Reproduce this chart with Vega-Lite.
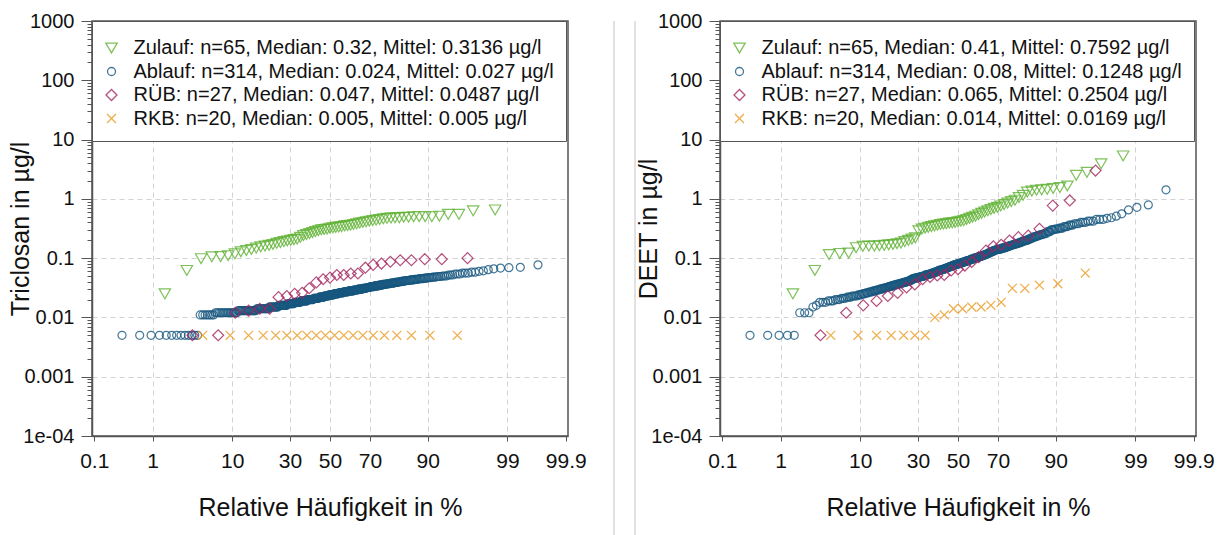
{
  "$schema": "https://vega.github.io/schema/vega-lite/v6.json",
  "padding": {"left": 8, "top": 0, "right": 0, "bottom": 0},
  "config": {
    "font": "Liberation Sans",
    "view": {"stroke": "#555555", "strokeWidth": 1.5},
    "axis": {
      "labelFont": "Liberation Sans",
      "titleFont": "Liberation Sans",
      "labelColor": "#111111",
      "titleColor": "#111111",
      "titleFontWeight": "normal",
      "domainColor": "#555555",
      "domainWidth": 1.5,
      "tickColor": "#555555",
      "gridColor": "#d2d2d2",
      "gridDash": [5, 4],
      "gridWidth": 1,
      "labelOverlap": false,
      "labelFlush": false
    },
    "legend": {
      "labelFont": "Liberation Sans",
      "labelFontSize": 20,
      "labelColor": "#111111",
      "labelLimit": 700,
      "padding": 12,
      "rowPadding": 3.5,
      "labelOffset": 12,
      "symbolOffset": -2.5,
      "titleFontSize": 4,
      "titlePadding": 1,
      "strokeColor": "#555555",
      "fillColor": "#ffffff",
      "symbolStrokeWidth": 1.3,
      "cornerRadius": 0
    }
  },
  "datasets": {
    "triclosan": [
      {"g":"Zulauf","p":1.52,"c":0.025},{"g":"Zulauf","p":3.03,"c":0.062},{"g":"Zulauf","p":4.55,"c":0.098},{"g":"Zulauf","p":6.06,"c":0.105},{"g":"Zulauf","p":7.58,"c":0.106},
      {"g":"Zulauf","p":9.09,"c":0.11},{"g":"Zulauf","p":10.61,"c":0.118},{"g":"Zulauf","p":12.12,"c":0.128},{"g":"Zulauf","p":13.64,"c":0.135},{"g":"Zulauf","p":15.15,"c":0.14},
      {"g":"Zulauf","p":16.67,"c":0.148},{"g":"Zulauf","p":18.18,"c":0.155},{"g":"Zulauf","p":19.7,"c":0.16},{"g":"Zulauf","p":21.21,"c":0.165},{"g":"Zulauf","p":22.73,"c":0.17},
      {"g":"Zulauf","p":24.24,"c":0.178},{"g":"Zulauf","p":25.76,"c":0.183},{"g":"Zulauf","p":27.27,"c":0.19},{"g":"Zulauf","p":28.79,"c":0.195},{"g":"Zulauf","p":30.3,"c":0.2},
      {"g":"Zulauf","p":31.82,"c":0.205},{"g":"Zulauf","p":33.33,"c":0.21},{"g":"Zulauf","p":34.85,"c":0.225},{"g":"Zulauf","p":36.36,"c":0.24},{"g":"Zulauf","p":37.88,"c":0.25},
      {"g":"Zulauf","p":39.39,"c":0.26},{"g":"Zulauf","p":40.91,"c":0.27},{"g":"Zulauf","p":42.42,"c":0.28},{"g":"Zulauf","p":43.94,"c":0.29},{"g":"Zulauf","p":45.45,"c":0.3},
      {"g":"Zulauf","p":46.97,"c":0.305},{"g":"Zulauf","p":48.48,"c":0.31},{"g":"Zulauf","p":50,"c":0.32},{"g":"Zulauf","p":51.52,"c":0.325},{"g":"Zulauf","p":53.03,"c":0.33},
      {"g":"Zulauf","p":54.55,"c":0.335},{"g":"Zulauf","p":56.06,"c":0.34},{"g":"Zulauf","p":57.58,"c":0.35},{"g":"Zulauf","p":59.09,"c":0.355},{"g":"Zulauf","p":60.61,"c":0.36},
      {"g":"Zulauf","p":62.12,"c":0.37},{"g":"Zulauf","p":63.64,"c":0.38},{"g":"Zulauf","p":65.15,"c":0.39},{"g":"Zulauf","p":66.67,"c":0.4},{"g":"Zulauf","p":68.18,"c":0.41},
      {"g":"Zulauf","p":69.7,"c":0.42},{"g":"Zulauf","p":71.21,"c":0.43},{"g":"Zulauf","p":72.73,"c":0.44},{"g":"Zulauf","p":74.24,"c":0.45},{"g":"Zulauf","p":75.76,"c":0.46},
      {"g":"Zulauf","p":77.27,"c":0.47},{"g":"Zulauf","p":78.79,"c":0.475},{"g":"Zulauf","p":80.3,"c":0.48},{"g":"Zulauf","p":81.82,"c":0.48},{"g":"Zulauf","p":83.33,"c":0.49},
      {"g":"Zulauf","p":84.85,"c":0.49},{"g":"Zulauf","p":86.36,"c":0.5},{"g":"Zulauf","p":87.88,"c":0.5},{"g":"Zulauf","p":89.39,"c":0.5},{"g":"Zulauf","p":90.91,"c":0.5},
      {"g":"Zulauf","p":92.42,"c":0.51},{"g":"Zulauf","p":93.94,"c":0.55},{"g":"Zulauf","p":95.45,"c":0.55},{"g":"Zulauf","p":96.97,"c":0.63},{"g":"Zulauf","p":98.48,"c":0.65},

      {"g":"Ablauf","p":0.32,"c":0.005},{"g":"Ablauf","p":0.63,"c":0.005},{"g":"Ablauf","p":0.95,"c":0.005},{"g":"Ablauf","p":1.27,"c":0.005},{"g":"Ablauf","p":1.59,"c":0.005},
      {"g":"Ablauf","p":1.9,"c":0.005},{"g":"Ablauf","p":2.22,"c":0.005},{"g":"Ablauf","p":2.54,"c":0.005},{"g":"Ablauf","p":2.86,"c":0.005},{"g":"Ablauf","p":3.17,"c":0.005},
      {"g":"Ablauf","p":3.49,"c":0.005},{"g":"Ablauf","p":3.81,"c":0.005},{"g":"Ablauf","p":4.13,"c":0.005},{"g":"Ablauf","p":4.44,"c":0.011},{"g":"Ablauf","p":4.76,"c":0.011},
      {"g":"Ablauf","p":5.08,"c":0.011},{"g":"Ablauf","p":5.4,"c":0.011},{"g":"Ablauf","p":5.71,"c":0.011},{"g":"Ablauf","p":6.03,"c":0.011},{"g":"Ablauf","p":6.35,"c":0.011},
      {"g":"Ablauf","p":6.67,"c":0.012},{"g":"Ablauf","p":6.98,"c":0.012},{"g":"Ablauf","p":7.3,"c":0.012},{"g":"Ablauf","p":7.62,"c":0.012},{"g":"Ablauf","p":7.94,"c":0.012},
      {"g":"Ablauf","p":8.25,"c":0.012},{"g":"Ablauf","p":8.57,"c":0.012},{"g":"Ablauf","p":8.89,"c":0.012},{"g":"Ablauf","p":9.21,"c":0.012},{"g":"Ablauf","p":9.52,"c":0.012},
      {"g":"Ablauf","p":9.84,"c":0.012},{"g":"Ablauf","p":10.16,"c":0.012},{"g":"Ablauf","p":10.48,"c":0.012},{"g":"Ablauf","p":10.79,"c":0.012},{"g":"Ablauf","p":11.11,"c":0.012},
      {"g":"Ablauf","p":11.43,"c":0.013},{"g":"Ablauf","p":11.75,"c":0.013},{"g":"Ablauf","p":12.06,"c":0.013},{"g":"Ablauf","p":12.38,"c":0.013},{"g":"Ablauf","p":12.7,"c":0.013},
      {"g":"Ablauf","p":13.02,"c":0.013},{"g":"Ablauf","p":13.33,"c":0.013},{"g":"Ablauf","p":13.65,"c":0.013},{"g":"Ablauf","p":13.97,"c":0.013},{"g":"Ablauf","p":14.29,"c":0.013},
      {"g":"Ablauf","p":14.6,"c":0.013},{"g":"Ablauf","p":14.92,"c":0.013},{"g":"Ablauf","p":15.24,"c":0.013},{"g":"Ablauf","p":15.56,"c":0.013},{"g":"Ablauf","p":15.87,"c":0.013},
      {"g":"Ablauf","p":16.19,"c":0.013},{"g":"Ablauf","p":16.51,"c":0.013},{"g":"Ablauf","p":16.83,"c":0.014},{"g":"Ablauf","p":17.14,"c":0.014},{"g":"Ablauf","p":17.46,"c":0.014},
      {"g":"Ablauf","p":17.78,"c":0.014},{"g":"Ablauf","p":18.1,"c":0.014},{"g":"Ablauf","p":18.41,"c":0.014},{"g":"Ablauf","p":18.73,"c":0.014},{"g":"Ablauf","p":19.05,"c":0.014},
      {"g":"Ablauf","p":19.37,"c":0.014},{"g":"Ablauf","p":19.68,"c":0.014},{"g":"Ablauf","p":20,"c":0.014},{"g":"Ablauf","p":20.32,"c":0.014},{"g":"Ablauf","p":20.63,"c":0.014},
      {"g":"Ablauf","p":20.95,"c":0.014},{"g":"Ablauf","p":21.27,"c":0.015},{"g":"Ablauf","p":21.59,"c":0.015},{"g":"Ablauf","p":21.9,"c":0.015},{"g":"Ablauf","p":22.22,"c":0.015},
      {"g":"Ablauf","p":22.54,"c":0.015},{"g":"Ablauf","p":22.86,"c":0.015},{"g":"Ablauf","p":23.17,"c":0.015},{"g":"Ablauf","p":23.49,"c":0.015},{"g":"Ablauf","p":23.81,"c":0.015},
      {"g":"Ablauf","p":24.13,"c":0.015},{"g":"Ablauf","p":24.44,"c":0.015},{"g":"Ablauf","p":24.76,"c":0.015},{"g":"Ablauf","p":25.08,"c":0.016},{"g":"Ablauf","p":25.4,"c":0.016},
      {"g":"Ablauf","p":25.71,"c":0.016},{"g":"Ablauf","p":26.03,"c":0.016},{"g":"Ablauf","p":26.35,"c":0.016},{"g":"Ablauf","p":26.67,"c":0.016},{"g":"Ablauf","p":26.98,"c":0.016},
      {"g":"Ablauf","p":27.3,"c":0.016},{"g":"Ablauf","p":27.62,"c":0.016},{"g":"Ablauf","p":27.94,"c":0.016},{"g":"Ablauf","p":28.25,"c":0.016},{"g":"Ablauf","p":28.57,"c":0.016},
      {"g":"Ablauf","p":28.89,"c":0.017},{"g":"Ablauf","p":29.21,"c":0.017},{"g":"Ablauf","p":29.52,"c":0.017},{"g":"Ablauf","p":29.84,"c":0.017},{"g":"Ablauf","p":30.16,"c":0.017},
      {"g":"Ablauf","p":30.48,"c":0.017},{"g":"Ablauf","p":30.79,"c":0.017},{"g":"Ablauf","p":31.11,"c":0.017},{"g":"Ablauf","p":31.43,"c":0.017},{"g":"Ablauf","p":31.75,"c":0.017},
      {"g":"Ablauf","p":32.06,"c":0.018},{"g":"Ablauf","p":32.38,"c":0.018},{"g":"Ablauf","p":32.7,"c":0.018},{"g":"Ablauf","p":33.02,"c":0.018},{"g":"Ablauf","p":33.33,"c":0.018},
      {"g":"Ablauf","p":33.65,"c":0.018},{"g":"Ablauf","p":33.97,"c":0.018},{"g":"Ablauf","p":34.29,"c":0.018},{"g":"Ablauf","p":34.6,"c":0.018},{"g":"Ablauf","p":34.92,"c":0.018},
      {"g":"Ablauf","p":35.24,"c":0.019},{"g":"Ablauf","p":35.56,"c":0.019},{"g":"Ablauf","p":35.87,"c":0.019},{"g":"Ablauf","p":36.19,"c":0.019},{"g":"Ablauf","p":36.51,"c":0.019},
      {"g":"Ablauf","p":36.83,"c":0.019},{"g":"Ablauf","p":37.14,"c":0.019},{"g":"Ablauf","p":37.46,"c":0.019},{"g":"Ablauf","p":37.78,"c":0.019},{"g":"Ablauf","p":38.1,"c":0.019},
      {"g":"Ablauf","p":38.41,"c":0.02},{"g":"Ablauf","p":38.73,"c":0.02},{"g":"Ablauf","p":39.05,"c":0.02},{"g":"Ablauf","p":39.37,"c":0.02},{"g":"Ablauf","p":39.68,"c":0.02},
      {"g":"Ablauf","p":40,"c":0.02},{"g":"Ablauf","p":40.32,"c":0.02},{"g":"Ablauf","p":40.63,"c":0.02},{"g":"Ablauf","p":40.95,"c":0.02},{"g":"Ablauf","p":41.27,"c":0.02},
      {"g":"Ablauf","p":41.59,"c":0.021},{"g":"Ablauf","p":41.9,"c":0.021},{"g":"Ablauf","p":42.22,"c":0.021},{"g":"Ablauf","p":42.54,"c":0.021},{"g":"Ablauf","p":42.86,"c":0.021},
      {"g":"Ablauf","p":43.17,"c":0.021},{"g":"Ablauf","p":43.49,"c":0.021},{"g":"Ablauf","p":43.81,"c":0.021},{"g":"Ablauf","p":44.13,"c":0.021},{"g":"Ablauf","p":44.44,"c":0.022},
      {"g":"Ablauf","p":44.76,"c":0.022},{"g":"Ablauf","p":45.08,"c":0.022},{"g":"Ablauf","p":45.4,"c":0.022},{"g":"Ablauf","p":45.71,"c":0.022},{"g":"Ablauf","p":46.03,"c":0.022},
      {"g":"Ablauf","p":46.35,"c":0.022},{"g":"Ablauf","p":46.67,"c":0.022},{"g":"Ablauf","p":46.98,"c":0.023},{"g":"Ablauf","p":47.3,"c":0.023},{"g":"Ablauf","p":47.62,"c":0.023},
      {"g":"Ablauf","p":47.94,"c":0.023},{"g":"Ablauf","p":48.25,"c":0.023},{"g":"Ablauf","p":48.57,"c":0.023},{"g":"Ablauf","p":48.89,"c":0.023},{"g":"Ablauf","p":49.21,"c":0.023},
      {"g":"Ablauf","p":49.52,"c":0.024},{"g":"Ablauf","p":49.84,"c":0.024},{"g":"Ablauf","p":50.16,"c":0.024},{"g":"Ablauf","p":50.48,"c":0.024},{"g":"Ablauf","p":50.79,"c":0.024},
      {"g":"Ablauf","p":51.11,"c":0.024},{"g":"Ablauf","p":51.43,"c":0.024},{"g":"Ablauf","p":51.75,"c":0.024},{"g":"Ablauf","p":52.06,"c":0.025},{"g":"Ablauf","p":52.38,"c":0.025},
      {"g":"Ablauf","p":52.7,"c":0.025},{"g":"Ablauf","p":53.02,"c":0.025},{"g":"Ablauf","p":53.33,"c":0.025},{"g":"Ablauf","p":53.65,"c":0.025},{"g":"Ablauf","p":53.97,"c":0.025},
      {"g":"Ablauf","p":54.29,"c":0.025},{"g":"Ablauf","p":54.6,"c":0.026},{"g":"Ablauf","p":54.92,"c":0.026},{"g":"Ablauf","p":55.24,"c":0.026},{"g":"Ablauf","p":55.56,"c":0.026},
      {"g":"Ablauf","p":55.87,"c":0.026},{"g":"Ablauf","p":56.19,"c":0.026},{"g":"Ablauf","p":56.51,"c":0.026},{"g":"Ablauf","p":56.83,"c":0.026},{"g":"Ablauf","p":57.14,"c":0.027},
      {"g":"Ablauf","p":57.46,"c":0.027},{"g":"Ablauf","p":57.78,"c":0.027},{"g":"Ablauf","p":58.1,"c":0.027},{"g":"Ablauf","p":58.41,"c":0.027},{"g":"Ablauf","p":58.73,"c":0.027},
      {"g":"Ablauf","p":59.05,"c":0.027},{"g":"Ablauf","p":59.37,"c":0.027},{"g":"Ablauf","p":59.68,"c":0.028},{"g":"Ablauf","p":60,"c":0.028},{"g":"Ablauf","p":60.32,"c":0.028},
      {"g":"Ablauf","p":60.63,"c":0.028},{"g":"Ablauf","p":60.95,"c":0.028},{"g":"Ablauf","p":61.27,"c":0.028},{"g":"Ablauf","p":61.59,"c":0.028},{"g":"Ablauf","p":61.9,"c":0.028},
      {"g":"Ablauf","p":62.22,"c":0.029},{"g":"Ablauf","p":62.54,"c":0.029},{"g":"Ablauf","p":62.86,"c":0.029},{"g":"Ablauf","p":63.17,"c":0.029},{"g":"Ablauf","p":63.49,"c":0.029},
      {"g":"Ablauf","p":63.81,"c":0.029},{"g":"Ablauf","p":64.13,"c":0.029},{"g":"Ablauf","p":64.44,"c":0.03},{"g":"Ablauf","p":64.76,"c":0.03},{"g":"Ablauf","p":65.08,"c":0.03},
      {"g":"Ablauf","p":65.4,"c":0.03},{"g":"Ablauf","p":65.71,"c":0.03},{"g":"Ablauf","p":66.03,"c":0.03},{"g":"Ablauf","p":66.35,"c":0.03},{"g":"Ablauf","p":66.67,"c":0.031},
      {"g":"Ablauf","p":66.98,"c":0.031},{"g":"Ablauf","p":67.3,"c":0.031},{"g":"Ablauf","p":67.62,"c":0.031},{"g":"Ablauf","p":67.94,"c":0.031},{"g":"Ablauf","p":68.25,"c":0.031},
      {"g":"Ablauf","p":68.57,"c":0.032},{"g":"Ablauf","p":68.89,"c":0.032},{"g":"Ablauf","p":69.21,"c":0.032},{"g":"Ablauf","p":69.52,"c":0.032},{"g":"Ablauf","p":69.84,"c":0.032},
      {"g":"Ablauf","p":70.16,"c":0.033},{"g":"Ablauf","p":70.48,"c":0.033},{"g":"Ablauf","p":70.79,"c":0.033},{"g":"Ablauf","p":71.11,"c":0.033},{"g":"Ablauf","p":71.43,"c":0.033},
      {"g":"Ablauf","p":71.75,"c":0.033},{"g":"Ablauf","p":72.06,"c":0.034},{"g":"Ablauf","p":72.38,"c":0.034},{"g":"Ablauf","p":72.7,"c":0.034},{"g":"Ablauf","p":73.02,"c":0.034},
      {"g":"Ablauf","p":73.33,"c":0.034},{"g":"Ablauf","p":73.65,"c":0.034},{"g":"Ablauf","p":73.97,"c":0.035},{"g":"Ablauf","p":74.29,"c":0.035},{"g":"Ablauf","p":74.6,"c":0.035},
      {"g":"Ablauf","p":74.92,"c":0.035},{"g":"Ablauf","p":75.24,"c":0.035},{"g":"Ablauf","p":75.56,"c":0.036},{"g":"Ablauf","p":75.87,"c":0.036},{"g":"Ablauf","p":76.19,"c":0.036},
      {"g":"Ablauf","p":76.51,"c":0.036},{"g":"Ablauf","p":76.83,"c":0.036},{"g":"Ablauf","p":77.14,"c":0.037},{"g":"Ablauf","p":77.46,"c":0.037},{"g":"Ablauf","p":77.78,"c":0.037},
      {"g":"Ablauf","p":78.1,"c":0.037},{"g":"Ablauf","p":78.41,"c":0.037},{"g":"Ablauf","p":78.73,"c":0.038},{"g":"Ablauf","p":79.05,"c":0.038},{"g":"Ablauf","p":79.37,"c":0.038},
      {"g":"Ablauf","p":79.68,"c":0.038},{"g":"Ablauf","p":80,"c":0.038},{"g":"Ablauf","p":80.32,"c":0.039},{"g":"Ablauf","p":80.63,"c":0.039},{"g":"Ablauf","p":80.95,"c":0.039},
      {"g":"Ablauf","p":81.27,"c":0.039},{"g":"Ablauf","p":81.59,"c":0.04},{"g":"Ablauf","p":81.9,"c":0.04},{"g":"Ablauf","p":82.22,"c":0.04},{"g":"Ablauf","p":82.54,"c":0.04},
      {"g":"Ablauf","p":82.86,"c":0.041},{"g":"Ablauf","p":83.17,"c":0.041},{"g":"Ablauf","p":83.49,"c":0.041},{"g":"Ablauf","p":83.81,"c":0.041},{"g":"Ablauf","p":84.13,"c":0.042},
      {"g":"Ablauf","p":84.44,"c":0.042},{"g":"Ablauf","p":84.76,"c":0.042},{"g":"Ablauf","p":85.08,"c":0.042},{"g":"Ablauf","p":85.4,"c":0.043},{"g":"Ablauf","p":85.71,"c":0.043},
      {"g":"Ablauf","p":86.03,"c":0.043},{"g":"Ablauf","p":86.35,"c":0.043},{"g":"Ablauf","p":86.67,"c":0.044},{"g":"Ablauf","p":86.98,"c":0.044},{"g":"Ablauf","p":87.3,"c":0.044},
      {"g":"Ablauf","p":87.62,"c":0.044},{"g":"Ablauf","p":87.94,"c":0.045},{"g":"Ablauf","p":88.25,"c":0.045},{"g":"Ablauf","p":88.57,"c":0.045},{"g":"Ablauf","p":88.89,"c":0.045},
      {"g":"Ablauf","p":89.21,"c":0.046},{"g":"Ablauf","p":89.52,"c":0.046},{"g":"Ablauf","p":89.84,"c":0.046},{"g":"Ablauf","p":90.16,"c":0.047},{"g":"Ablauf","p":90.48,"c":0.047},
      {"g":"Ablauf","p":90.79,"c":0.047},{"g":"Ablauf","p":91.11,"c":0.048},{"g":"Ablauf","p":91.43,"c":0.048},{"g":"Ablauf","p":91.75,"c":0.048},{"g":"Ablauf","p":92.06,"c":0.049},
      {"g":"Ablauf","p":92.38,"c":0.049},{"g":"Ablauf","p":92.7,"c":0.049},{"g":"Ablauf","p":93.02,"c":0.05},{"g":"Ablauf","p":93.33,"c":0.05},{"g":"Ablauf","p":93.65,"c":0.05},
      {"g":"Ablauf","p":93.97,"c":0.052},{"g":"Ablauf","p":94.29,"c":0.052},{"g":"Ablauf","p":94.6,"c":0.052},{"g":"Ablauf","p":94.92,"c":0.054},{"g":"Ablauf","p":95.24,"c":0.054},
      {"g":"Ablauf","p":95.56,"c":0.054},{"g":"Ablauf","p":95.87,"c":0.056},{"g":"Ablauf","p":96.19,"c":0.056},{"g":"Ablauf","p":96.51,"c":0.056},{"g":"Ablauf","p":96.83,"c":0.058},
      {"g":"Ablauf","p":97.14,"c":0.058},{"g":"Ablauf","p":97.46,"c":0.06},{"g":"Ablauf","p":97.78,"c":0.061},{"g":"Ablauf","p":98.1,"c":0.064},{"g":"Ablauf","p":98.41,"c":0.066},
      {"g":"Ablauf","p":98.73,"c":0.068},{"g":"Ablauf","p":99.05,"c":0.069},{"g":"Ablauf","p":99.37,"c":0.07},{"g":"Ablauf","p":99.68,"c":0.077},

      {"g":"RÜB","p":3.57,"c":0.005},{"g":"RÜB","p":7.14,"c":0.005},{"g":"RÜB","p":10.71,"c":0.012},{"g":"RÜB","p":14.29,"c":0.013},{"g":"RÜB","p":17.86,"c":0.014},
      {"g":"RÜB","p":21.43,"c":0.014},{"g":"RÜB","p":25,"c":0.022},{"g":"RÜB","p":28.57,"c":0.023},{"g":"RÜB","p":32.14,"c":0.025},{"g":"RÜB","p":35.71,"c":0.026},
      {"g":"RÜB","p":39.29,"c":0.031},{"g":"RÜB","p":42.86,"c":0.039},{"g":"RÜB","p":46.43,"c":0.044},{"g":"RÜB","p":50,"c":0.047},{"g":"RÜB","p":53.57,"c":0.052},
      {"g":"RÜB","p":57.14,"c":0.052},{"g":"RÜB","p":60.71,"c":0.055},{"g":"RÜB","p":64.29,"c":0.055},{"g":"RÜB","p":67.86,"c":0.069},{"g":"RÜB","p":71.43,"c":0.077},
      {"g":"RÜB","p":75,"c":0.081},{"g":"RÜB","p":78.57,"c":0.087},{"g":"RÜB","p":82.14,"c":0.092},{"g":"RÜB","p":85.71,"c":0.092},{"g":"RÜB","p":89.29,"c":0.096},
      {"g":"RÜB","p":92.86,"c":0.096},{"g":"RÜB","p":96.43,"c":0.1},

      {"g":"RKB","p":4.76,"c":0.005},{"g":"RKB","p":9.52,"c":0.005},{"g":"RKB","p":14.29,"c":0.005},{"g":"RKB","p":19.05,"c":0.005},{"g":"RKB","p":23.81,"c":0.005},
      {"g":"RKB","p":28.57,"c":0.005},{"g":"RKB","p":33.33,"c":0.005},{"g":"RKB","p":38.1,"c":0.005},{"g":"RKB","p":42.86,"c":0.005},{"g":"RKB","p":47.62,"c":0.005},
      {"g":"RKB","p":52.38,"c":0.005},{"g":"RKB","p":57.14,"c":0.005},{"g":"RKB","p":61.9,"c":0.005},{"g":"RKB","p":66.67,"c":0.005},{"g":"RKB","p":71.43,"c":0.005},
      {"g":"RKB","p":76.19,"c":0.005},{"g":"RKB","p":80.95,"c":0.005},{"g":"RKB","p":85.71,"c":0.005},{"g":"RKB","p":90.48,"c":0.005},{"g":"RKB","p":95.24,"c":0.005}
    ],
    "deet": [
      {"g":"Zulauf","p":1.52,"c":0.025},{"g":"Zulauf","p":3.03,"c":0.062},{"g":"Zulauf","p":4.55,"c":0.115},{"g":"Zulauf","p":6.06,"c":0.12},{"g":"Zulauf","p":7.58,"c":0.122},
      {"g":"Zulauf","p":9.09,"c":0.15},{"g":"Zulauf","p":10.61,"c":0.158},{"g":"Zulauf","p":12.12,"c":0.16},{"g":"Zulauf","p":13.64,"c":0.16},{"g":"Zulauf","p":15.15,"c":0.162},
      {"g":"Zulauf","p":16.67,"c":0.165},{"g":"Zulauf","p":18.18,"c":0.168},{"g":"Zulauf","p":19.7,"c":0.17},{"g":"Zulauf","p":21.21,"c":0.175},{"g":"Zulauf","p":22.73,"c":0.18},
      {"g":"Zulauf","p":24.24,"c":0.19},{"g":"Zulauf","p":25.76,"c":0.2},{"g":"Zulauf","p":27.27,"c":0.21},{"g":"Zulauf","p":28.79,"c":0.22},{"g":"Zulauf","p":30.3,"c":0.29},
      {"g":"Zulauf","p":31.82,"c":0.31},{"g":"Zulauf","p":33.33,"c":0.32},{"g":"Zulauf","p":34.85,"c":0.33},{"g":"Zulauf","p":36.36,"c":0.34},{"g":"Zulauf","p":37.88,"c":0.35},
      {"g":"Zulauf","p":39.39,"c":0.36},{"g":"Zulauf","p":40.91,"c":0.37},{"g":"Zulauf","p":42.42,"c":0.375},{"g":"Zulauf","p":43.94,"c":0.38},{"g":"Zulauf","p":45.45,"c":0.39},
      {"g":"Zulauf","p":46.97,"c":0.395},{"g":"Zulauf","p":48.48,"c":0.4},{"g":"Zulauf","p":50,"c":0.41},{"g":"Zulauf","p":51.52,"c":0.42},{"g":"Zulauf","p":53.03,"c":0.43},
      {"g":"Zulauf","p":54.55,"c":0.45},{"g":"Zulauf","p":56.06,"c":0.47},{"g":"Zulauf","p":57.58,"c":0.49},{"g":"Zulauf","p":59.09,"c":0.51},{"g":"Zulauf","p":60.61,"c":0.54},
      {"g":"Zulauf","p":62.12,"c":0.57},{"g":"Zulauf","p":63.64,"c":0.6},{"g":"Zulauf","p":65.15,"c":0.63},{"g":"Zulauf","p":66.67,"c":0.66},{"g":"Zulauf","p":68.18,"c":0.69},
      {"g":"Zulauf","p":69.7,"c":0.72},{"g":"Zulauf","p":71.21,"c":0.76},{"g":"Zulauf","p":72.73,"c":0.8},{"g":"Zulauf","p":74.24,"c":0.85},{"g":"Zulauf","p":75.76,"c":0.9},
      {"g":"Zulauf","p":77.27,"c":0.95},{"g":"Zulauf","p":78.79,"c":1.05},{"g":"Zulauf","p":80.3,"c":1.15},{"g":"Zulauf","p":81.82,"c":1.3},{"g":"Zulauf","p":83.33,"c":1.35},
      {"g":"Zulauf","p":84.85,"c":1.4},{"g":"Zulauf","p":86.36,"c":1.42},{"g":"Zulauf","p":87.88,"c":1.45},{"g":"Zulauf","p":89.39,"c":1.5},{"g":"Zulauf","p":90.91,"c":1.55},
      {"g":"Zulauf","p":92.42,"c":1.65},{"g":"Zulauf","p":93.94,"c":2.5},{"g":"Zulauf","p":95.45,"c":2.8},{"g":"Zulauf","p":96.97,"c":3.9},{"g":"Zulauf","p":98.48,"c":5.3},

      {"g":"Ablauf","p":0.32,"c":0.005},{"g":"Ablauf","p":0.63,"c":0.005},{"g":"Ablauf","p":0.95,"c":0.005},{"g":"Ablauf","p":1.27,"c":0.005},{"g":"Ablauf","p":1.59,"c":0.005},
      {"g":"Ablauf","p":1.9,"c":0.012},{"g":"Ablauf","p":2.22,"c":0.012},{"g":"Ablauf","p":2.54,"c":0.012},{"g":"Ablauf","p":2.86,"c":0.015},{"g":"Ablauf","p":3.17,"c":0.016},
      {"g":"Ablauf","p":3.49,"c":0.018},{"g":"Ablauf","p":3.81,"c":0.018},{"g":"Ablauf","p":4.13,"c":0.018},{"g":"Ablauf","p":4.44,"c":0.019},{"g":"Ablauf","p":4.76,"c":0.019},
      {"g":"Ablauf","p":5.08,"c":0.019},{"g":"Ablauf","p":5.4,"c":0.02},{"g":"Ablauf","p":5.71,"c":0.02},{"g":"Ablauf","p":6.03,"c":0.02},{"g":"Ablauf","p":6.35,"c":0.021},
      {"g":"Ablauf","p":6.67,"c":0.021},{"g":"Ablauf","p":6.98,"c":0.021},{"g":"Ablauf","p":7.3,"c":0.022},{"g":"Ablauf","p":7.62,"c":0.022},{"g":"Ablauf","p":7.94,"c":0.022},
      {"g":"Ablauf","p":8.25,"c":0.023},{"g":"Ablauf","p":8.57,"c":0.023},{"g":"Ablauf","p":8.89,"c":0.023},{"g":"Ablauf","p":9.21,"c":0.023},{"g":"Ablauf","p":9.52,"c":0.024},
      {"g":"Ablauf","p":9.84,"c":0.024},{"g":"Ablauf","p":10.16,"c":0.024},{"g":"Ablauf","p":10.48,"c":0.025},{"g":"Ablauf","p":10.79,"c":0.025},{"g":"Ablauf","p":11.11,"c":0.025},
      {"g":"Ablauf","p":11.43,"c":0.026},{"g":"Ablauf","p":11.75,"c":0.026},{"g":"Ablauf","p":12.06,"c":0.026},{"g":"Ablauf","p":12.38,"c":0.027},{"g":"Ablauf","p":12.7,"c":0.027},
      {"g":"Ablauf","p":13.02,"c":0.027},{"g":"Ablauf","p":13.33,"c":0.028},{"g":"Ablauf","p":13.65,"c":0.028},{"g":"Ablauf","p":13.97,"c":0.028},{"g":"Ablauf","p":14.29,"c":0.029},
      {"g":"Ablauf","p":14.6,"c":0.029},{"g":"Ablauf","p":14.92,"c":0.029},{"g":"Ablauf","p":15.24,"c":0.03},{"g":"Ablauf","p":15.56,"c":0.03},{"g":"Ablauf","p":15.87,"c":0.03},
      {"g":"Ablauf","p":16.19,"c":0.031},{"g":"Ablauf","p":16.51,"c":0.031},{"g":"Ablauf","p":16.83,"c":0.031},{"g":"Ablauf","p":17.14,"c":0.032},{"g":"Ablauf","p":17.46,"c":0.032},
      {"g":"Ablauf","p":17.78,"c":0.032},{"g":"Ablauf","p":18.1,"c":0.033},{"g":"Ablauf","p":18.41,"c":0.033},{"g":"Ablauf","p":18.73,"c":0.033},{"g":"Ablauf","p":19.05,"c":0.034},
      {"g":"Ablauf","p":19.37,"c":0.034},{"g":"Ablauf","p":19.68,"c":0.034},{"g":"Ablauf","p":20,"c":0.035},{"g":"Ablauf","p":20.32,"c":0.035},{"g":"Ablauf","p":20.63,"c":0.035},
      {"g":"Ablauf","p":20.95,"c":0.036},{"g":"Ablauf","p":21.27,"c":0.036},{"g":"Ablauf","p":21.59,"c":0.036},{"g":"Ablauf","p":21.9,"c":0.037},{"g":"Ablauf","p":22.22,"c":0.037},
      {"g":"Ablauf","p":22.54,"c":0.037},{"g":"Ablauf","p":22.86,"c":0.038},{"g":"Ablauf","p":23.17,"c":0.038},{"g":"Ablauf","p":23.49,"c":0.038},{"g":"Ablauf","p":23.81,"c":0.039},
      {"g":"Ablauf","p":24.13,"c":0.039},{"g":"Ablauf","p":24.44,"c":0.039},{"g":"Ablauf","p":24.76,"c":0.04},{"g":"Ablauf","p":25.08,"c":0.04},{"g":"Ablauf","p":25.4,"c":0.04},
      {"g":"Ablauf","p":25.71,"c":0.041},{"g":"Ablauf","p":26.03,"c":0.041},{"g":"Ablauf","p":26.35,"c":0.041},{"g":"Ablauf","p":26.67,"c":0.043},{"g":"Ablauf","p":26.98,"c":0.043},
      {"g":"Ablauf","p":27.3,"c":0.043},{"g":"Ablauf","p":27.62,"c":0.045},{"g":"Ablauf","p":27.94,"c":0.045},{"g":"Ablauf","p":28.25,"c":0.045},{"g":"Ablauf","p":28.57,"c":0.046},
      {"g":"Ablauf","p":28.89,"c":0.046},{"g":"Ablauf","p":29.21,"c":0.046},{"g":"Ablauf","p":29.52,"c":0.047},{"g":"Ablauf","p":29.84,"c":0.047},{"g":"Ablauf","p":30.16,"c":0.047},
      {"g":"Ablauf","p":30.48,"c":0.048},{"g":"Ablauf","p":30.79,"c":0.048},{"g":"Ablauf","p":31.11,"c":0.048},{"g":"Ablauf","p":31.43,"c":0.049},{"g":"Ablauf","p":31.75,"c":0.049},
      {"g":"Ablauf","p":32.06,"c":0.049},{"g":"Ablauf","p":32.38,"c":0.05},{"g":"Ablauf","p":32.7,"c":0.05},{"g":"Ablauf","p":33.02,"c":0.05},{"g":"Ablauf","p":33.33,"c":0.052},
      {"g":"Ablauf","p":33.65,"c":0.052},{"g":"Ablauf","p":33.97,"c":0.052},{"g":"Ablauf","p":34.29,"c":0.053},{"g":"Ablauf","p":34.6,"c":0.053},{"g":"Ablauf","p":34.92,"c":0.053},
      {"g":"Ablauf","p":35.24,"c":0.054},{"g":"Ablauf","p":35.56,"c":0.054},{"g":"Ablauf","p":35.87,"c":0.054},{"g":"Ablauf","p":36.19,"c":0.055},{"g":"Ablauf","p":36.51,"c":0.055},
      {"g":"Ablauf","p":36.83,"c":0.055},{"g":"Ablauf","p":37.14,"c":0.057},{"g":"Ablauf","p":37.46,"c":0.057},{"g":"Ablauf","p":37.78,"c":0.057},{"g":"Ablauf","p":38.1,"c":0.058},
      {"g":"Ablauf","p":38.41,"c":0.058},{"g":"Ablauf","p":38.73,"c":0.058},{"g":"Ablauf","p":39.05,"c":0.06},{"g":"Ablauf","p":39.37,"c":0.06},{"g":"Ablauf","p":39.68,"c":0.06},
      {"g":"Ablauf","p":40,"c":0.062},{"g":"Ablauf","p":40.32,"c":0.062},{"g":"Ablauf","p":40.63,"c":0.062},{"g":"Ablauf","p":40.95,"c":0.063},{"g":"Ablauf","p":41.27,"c":0.063},
      {"g":"Ablauf","p":41.59,"c":0.063},{"g":"Ablauf","p":41.9,"c":0.065},{"g":"Ablauf","p":42.22,"c":0.065},{"g":"Ablauf","p":42.54,"c":0.065},{"g":"Ablauf","p":42.86,"c":0.066},
      {"g":"Ablauf","p":43.17,"c":0.066},{"g":"Ablauf","p":43.49,"c":0.066},{"g":"Ablauf","p":43.81,"c":0.068},{"g":"Ablauf","p":44.13,"c":0.068},{"g":"Ablauf","p":44.44,"c":0.068},
      {"g":"Ablauf","p":44.76,"c":0.07},{"g":"Ablauf","p":45.08,"c":0.07},{"g":"Ablauf","p":45.4,"c":0.07},{"g":"Ablauf","p":45.71,"c":0.072},{"g":"Ablauf","p":46.03,"c":0.072},
      {"g":"Ablauf","p":46.35,"c":0.072},{"g":"Ablauf","p":46.67,"c":0.074},{"g":"Ablauf","p":46.98,"c":0.074},{"g":"Ablauf","p":47.3,"c":0.074},{"g":"Ablauf","p":47.62,"c":0.076},
      {"g":"Ablauf","p":47.94,"c":0.076},{"g":"Ablauf","p":48.25,"c":0.076},{"g":"Ablauf","p":48.57,"c":0.078},{"g":"Ablauf","p":48.89,"c":0.078},{"g":"Ablauf","p":49.21,"c":0.078},
      {"g":"Ablauf","p":49.52,"c":0.08},{"g":"Ablauf","p":49.84,"c":0.08},{"g":"Ablauf","p":50.16,"c":0.08},{"g":"Ablauf","p":50.48,"c":0.08},{"g":"Ablauf","p":50.79,"c":0.082},
      {"g":"Ablauf","p":51.11,"c":0.082},{"g":"Ablauf","p":51.43,"c":0.082},{"g":"Ablauf","p":51.75,"c":0.084},{"g":"Ablauf","p":52.06,"c":0.084},{"g":"Ablauf","p":52.38,"c":0.084},
      {"g":"Ablauf","p":52.7,"c":0.086},{"g":"Ablauf","p":53.02,"c":0.086},{"g":"Ablauf","p":53.33,"c":0.086},{"g":"Ablauf","p":53.65,"c":0.088},{"g":"Ablauf","p":53.97,"c":0.088},
      {"g":"Ablauf","p":54.29,"c":0.088},{"g":"Ablauf","p":54.6,"c":0.09},{"g":"Ablauf","p":54.92,"c":0.09},{"g":"Ablauf","p":55.24,"c":0.09},{"g":"Ablauf","p":55.56,"c":0.092},
      {"g":"Ablauf","p":55.87,"c":0.092},{"g":"Ablauf","p":56.19,"c":0.092},{"g":"Ablauf","p":56.51,"c":0.095},{"g":"Ablauf","p":56.83,"c":0.095},{"g":"Ablauf","p":57.14,"c":0.095},
      {"g":"Ablauf","p":57.46,"c":0.097},{"g":"Ablauf","p":57.78,"c":0.097},{"g":"Ablauf","p":58.1,"c":0.097},{"g":"Ablauf","p":58.41,"c":0.1},{"g":"Ablauf","p":58.73,"c":0.1},
      {"g":"Ablauf","p":59.05,"c":0.1},{"g":"Ablauf","p":59.37,"c":0.102},{"g":"Ablauf","p":59.68,"c":0.102},{"g":"Ablauf","p":60,"c":0.102},{"g":"Ablauf","p":60.32,"c":0.105},
      {"g":"Ablauf","p":60.63,"c":0.105},{"g":"Ablauf","p":60.95,"c":0.105},{"g":"Ablauf","p":61.27,"c":0.107},{"g":"Ablauf","p":61.59,"c":0.107},{"g":"Ablauf","p":61.9,"c":0.107},
      {"g":"Ablauf","p":62.22,"c":0.11},{"g":"Ablauf","p":62.54,"c":0.11},{"g":"Ablauf","p":62.86,"c":0.11},{"g":"Ablauf","p":63.17,"c":0.113},{"g":"Ablauf","p":63.49,"c":0.113},
      {"g":"Ablauf","p":63.81,"c":0.113},{"g":"Ablauf","p":64.13,"c":0.116},{"g":"Ablauf","p":64.44,"c":0.116},{"g":"Ablauf","p":64.76,"c":0.116},{"g":"Ablauf","p":65.08,"c":0.12},
      {"g":"Ablauf","p":65.4,"c":0.12},{"g":"Ablauf","p":65.71,"c":0.12},{"g":"Ablauf","p":66.03,"c":0.125},{"g":"Ablauf","p":66.35,"c":0.125},{"g":"Ablauf","p":66.67,"c":0.125},
      {"g":"Ablauf","p":66.98,"c":0.13},{"g":"Ablauf","p":67.3,"c":0.13},{"g":"Ablauf","p":67.62,"c":0.13},{"g":"Ablauf","p":67.94,"c":0.134},{"g":"Ablauf","p":68.25,"c":0.134},
      {"g":"Ablauf","p":68.57,"c":0.134},{"g":"Ablauf","p":68.89,"c":0.138},{"g":"Ablauf","p":69.21,"c":0.138},{"g":"Ablauf","p":69.52,"c":0.138},{"g":"Ablauf","p":69.84,"c":0.14},
      {"g":"Ablauf","p":70.16,"c":0.14},{"g":"Ablauf","p":70.48,"c":0.14},{"g":"Ablauf","p":70.79,"c":0.143},{"g":"Ablauf","p":71.11,"c":0.143},{"g":"Ablauf","p":71.43,"c":0.143},
      {"g":"Ablauf","p":71.75,"c":0.147},{"g":"Ablauf","p":72.06,"c":0.147},{"g":"Ablauf","p":72.38,"c":0.147},{"g":"Ablauf","p":72.7,"c":0.15},{"g":"Ablauf","p":73.02,"c":0.15},
      {"g":"Ablauf","p":73.33,"c":0.15},{"g":"Ablauf","p":73.65,"c":0.155},{"g":"Ablauf","p":73.97,"c":0.155},{"g":"Ablauf","p":74.29,"c":0.155},{"g":"Ablauf","p":74.6,"c":0.16},
      {"g":"Ablauf","p":74.92,"c":0.16},{"g":"Ablauf","p":75.24,"c":0.16},{"g":"Ablauf","p":75.56,"c":0.165},{"g":"Ablauf","p":75.87,"c":0.165},{"g":"Ablauf","p":76.19,"c":0.165},
      {"g":"Ablauf","p":76.51,"c":0.17},{"g":"Ablauf","p":76.83,"c":0.17},{"g":"Ablauf","p":77.14,"c":0.17},{"g":"Ablauf","p":77.46,"c":0.175},{"g":"Ablauf","p":77.78,"c":0.175},
      {"g":"Ablauf","p":78.1,"c":0.175},{"g":"Ablauf","p":78.41,"c":0.18},{"g":"Ablauf","p":78.73,"c":0.18},{"g":"Ablauf","p":79.05,"c":0.18},{"g":"Ablauf","p":79.37,"c":0.187},
      {"g":"Ablauf","p":79.68,"c":0.187},{"g":"Ablauf","p":80,"c":0.187},{"g":"Ablauf","p":80.32,"c":0.195},{"g":"Ablauf","p":80.63,"c":0.195},{"g":"Ablauf","p":80.95,"c":0.195},
      {"g":"Ablauf","p":81.27,"c":0.2},{"g":"Ablauf","p":81.59,"c":0.2},{"g":"Ablauf","p":81.9,"c":0.2},{"g":"Ablauf","p":82.22,"c":0.21},{"g":"Ablauf","p":82.54,"c":0.21},
      {"g":"Ablauf","p":82.86,"c":0.21},{"g":"Ablauf","p":83.17,"c":0.22},{"g":"Ablauf","p":83.49,"c":0.22},{"g":"Ablauf","p":83.81,"c":0.22},{"g":"Ablauf","p":84.13,"c":0.23},
      {"g":"Ablauf","p":84.44,"c":0.23},{"g":"Ablauf","p":84.76,"c":0.23},{"g":"Ablauf","p":85.08,"c":0.24},{"g":"Ablauf","p":85.4,"c":0.24},{"g":"Ablauf","p":85.71,"c":0.24},
      {"g":"Ablauf","p":86.03,"c":0.25},{"g":"Ablauf","p":86.35,"c":0.25},{"g":"Ablauf","p":86.67,"c":0.25},{"g":"Ablauf","p":86.98,"c":0.26},{"g":"Ablauf","p":87.3,"c":0.26},
      {"g":"Ablauf","p":87.62,"c":0.26},{"g":"Ablauf","p":87.94,"c":0.28},{"g":"Ablauf","p":88.25,"c":0.28},{"g":"Ablauf","p":88.57,"c":0.28},{"g":"Ablauf","p":88.89,"c":0.3},
      {"g":"Ablauf","p":89.21,"c":0.3},{"g":"Ablauf","p":89.52,"c":0.3},{"g":"Ablauf","p":89.84,"c":0.31},{"g":"Ablauf","p":90.16,"c":0.31},{"g":"Ablauf","p":90.48,"c":0.31},
      {"g":"Ablauf","p":90.79,"c":0.32},{"g":"Ablauf","p":91.11,"c":0.32},{"g":"Ablauf","p":91.43,"c":0.32},{"g":"Ablauf","p":91.75,"c":0.34},{"g":"Ablauf","p":92.06,"c":0.34},
      {"g":"Ablauf","p":92.38,"c":0.34},{"g":"Ablauf","p":92.7,"c":0.36},{"g":"Ablauf","p":93.02,"c":0.36},{"g":"Ablauf","p":93.33,"c":0.36},{"g":"Ablauf","p":93.65,"c":0.38},
      {"g":"Ablauf","p":93.97,"c":0.38},{"g":"Ablauf","p":94.29,"c":0.38},{"g":"Ablauf","p":94.6,"c":0.4},{"g":"Ablauf","p":94.92,"c":0.4},{"g":"Ablauf","p":95.24,"c":0.4},
      {"g":"Ablauf","p":95.56,"c":0.42},{"g":"Ablauf","p":95.87,"c":0.42},{"g":"Ablauf","p":96.19,"c":0.42},{"g":"Ablauf","p":96.51,"c":0.45},{"g":"Ablauf","p":96.83,"c":0.45},
      {"g":"Ablauf","p":97.14,"c":0.45},{"g":"Ablauf","p":97.46,"c":0.47},{"g":"Ablauf","p":97.78,"c":0.48},{"g":"Ablauf","p":98.1,"c":0.51},{"g":"Ablauf","p":98.41,"c":0.56},
      {"g":"Ablauf","p":98.73,"c":0.65},{"g":"Ablauf","p":99.05,"c":0.72},{"g":"Ablauf","p":99.37,"c":0.79},{"g":"Ablauf","p":99.68,"c":1.42},

      {"g":"RÜB","p":3.57,"c":0.005},{"g":"RÜB","p":7.14,"c":0.012},{"g":"RÜB","p":10.71,"c":0.016},{"g":"RÜB","p":14.29,"c":0.019},{"g":"RÜB","p":17.86,"c":0.023},
      {"g":"RÜB","p":21.43,"c":0.026},{"g":"RÜB","p":25,"c":0.032},{"g":"RÜB","p":28.57,"c":0.036},{"g":"RÜB","p":32.14,"c":0.044},{"g":"RÜB","p":35.71,"c":0.048},
      {"g":"RÜB","p":39.29,"c":0.051},{"g":"RÜB","p":42.86,"c":0.052},{"g":"RÜB","p":46.43,"c":0.062},{"g":"RÜB","p":50,"c":0.065},{"g":"RÜB","p":53.57,"c":0.075},
      {"g":"RÜB","p":57.14,"c":0.086},{"g":"RÜB","p":60.71,"c":0.104},{"g":"RÜB","p":64.29,"c":0.134},{"g":"RÜB","p":67.86,"c":0.159},{"g":"RÜB","p":71.43,"c":0.168},
      {"g":"RÜB","p":75,"c":0.198},{"g":"RÜB","p":78.57,"c":0.226},{"g":"RÜB","p":82.14,"c":0.24},{"g":"RÜB","p":85.71,"c":0.312},{"g":"RÜB","p":89.29,"c":0.77},
      {"g":"RÜB","p":92.86,"c":0.94},{"g":"RÜB","p":96.43,"c":3.0},

      {"g":"RKB","p":4.76,"c":0.005},{"g":"RKB","p":9.52,"c":0.005},{"g":"RKB","p":14.29,"c":0.005},{"g":"RKB","p":19.05,"c":0.005},{"g":"RKB","p":23.81,"c":0.005},
      {"g":"RKB","p":28.57,"c":0.005},{"g":"RKB","p":33.33,"c":0.005},{"g":"RKB","p":38.1,"c":0.01},{"g":"RKB","p":42.86,"c":0.011},{"g":"RKB","p":47.62,"c":0.014},
      {"g":"RKB","p":52.38,"c":0.014},{"g":"RKB","p":57.14,"c":0.015},{"g":"RKB","p":61.9,"c":0.015},{"g":"RKB","p":66.67,"c":0.016},{"g":"RKB","p":71.43,"c":0.018},
      {"g":"RKB","p":76.19,"c":0.031},{"g":"RKB","p":80.95,"c":0.031},{"g":"RKB","p":85.71,"c":0.035},{"g":"RKB","p":90.48,"c":0.037},{"g":"RKB","p":95.24,"c":0.056}
    ]
  },
  "resolve": {
    "scale": {"x": "independent", "y": "independent", "color": "independent", "shape": "independent", "size": "independent"},
    "legend": {"color": "independent", "shape": "independent", "size": "independent"}
  },
  "spacing": 26,
  "hconcat": [
    {
      "width": 476,
      "height": 415,
      "title": {"text": " ", "fontSize": 1, "offset": 7},
      "data": {"name": "triclosan"},
      "transform": [{"calculate": "quantileNormal(datum.p / 100)", "as": "z"}],
      "mark": {"type": "point", "filled": false, "strokeWidth": 1.2, "opacity": 0.8},
      "encoding": {
        "x": {
          "field": "z", "type": "quantitative",
          "scale": {"domain": [-3.12, 3.12], "nice": false, "zero": false},
          "axis": {
            "title": "Relative Häufigkeit in %",
            "values": [-3.0902, -2.3263, -1.2816, -0.5244, 0, 0.5244, 1.2816, 2.3263, 3.0902],
            "labelExpr": "format(round(cumulativeNormal(datum.value) * 1000) / 10, '~g')",
            "tickSize": 5, "labelPadding": 9, "labelFontSize": 21,
            "titleFontSize": 25, "titlePadding": 24,
            "gridOpacity": {"condition": {"test": "abs(datum.value) > 3", "value": 0}, "value": 1}
          }
        },
        "y": {
          "field": "c", "type": "quantitative",
          "scale": {"type": "log", "domain": [0.0001, 1000], "nice": false},
          "axis": {
            "title": "Triclosan in µg/l",
            "values": [0.0001,0.0002,0.0003,0.0004,0.0005,0.0006,0.0007,0.0008,0.0009,0.001,0.002,0.003,0.004,0.005,0.006,0.007,0.008,0.009,0.01,0.02,0.03,0.04,0.05,0.06,0.07,0.08,0.09,0.1,0.2,0.3,0.4,0.5,0.6,0.7,0.8,0.9,1,2,3,4,5,6,7,8,9,10,20,30,40,50,60,70,80,90,100,200,300,400,500,600,700,800,900,1000],
            "labelExpr": "abs(log(datum.value) / LN10 - round(log(datum.value) / LN10)) < 0.001 ? (datum.value < 0.00015 ? '1e-04' : format(datum.value, '~g')) : ''",
            "tickSize": {"condition": {"test": "abs(log(datum.value) / LN10 - round(log(datum.value) / LN10)) < 0.001", "value": 11}, "value": 5},
            "gridOpacity": {"condition": {"test": "abs(log(datum.value) / LN10 - round(log(datum.value) / LN10)) < 0.001", "value": 1}, "value": 0},
            "labelPadding": 7, "labelFontSize": 20,
            "titleFontSize": 25, "titlePadding": -11
          }
        },
        "color": {
          "field": "g", "type": "nominal",
          "scale": {"domain": ["Zulauf", "Ablauf", "RÜB", "RKB"], "range": ["#5fb233", "#17577f", "#a3245e", "#eb9a1f"]},
          "legend": {
            "title": " ", "orient": "top-left", "offset": 0,
            "labelExpr": "datum.label == 'Zulauf' ? 'Zulauf: n=65, Median: 0.32, Mittel: 0.3136 µg/l' : datum.label == 'Ablauf' ? 'Ablauf: n=314, Median: 0.024, Mittel: 0.027 µg/l' : datum.label == 'RÜB' ? 'RÜB: n=27, Median: 0.047, Mittel: 0.0487 µg/l' : 'RKB: n=20, Median: 0.005, Mittel: 0.005 µg/l'"
          }
        },
        "shape": {
          "field": "g", "type": "nominal",
          "scale": {"domain": ["Zulauf", "Ablauf", "RÜB", "RKB"], "range": ["triangle-down", "circle", "diamond", "M-1,-1L1,1M-1,1L1,-1"]}
        },
        "size": {
          "field": "g", "type": "nominal",
          "scale": {"type": "ordinal", "domain": ["Zulauf", "Ablauf", "RÜB", "RKB"], "range": [130, 64, 120, 80]}
        }
      }
    },
    {
      "spacing": 0,
      "resolve": {
        "scale": {"x": "independent", "y": "independent", "color": "independent", "shape": "independent", "size": "independent"},
        "legend": {"color": "independent", "shape": "independent", "size": "independent"}
      },
      "hconcat": [
        {
          "width": 21,
          "height": 535,
          "view": {"stroke": null},
          "data": {"values": [{}]},
          "layer": [
            {
              "mark": {"type": "rule", "color": "#c4c4c4", "strokeWidth": 1},
              "encoding": {"x": {"datum": 0, "type": "quantitative", "scale": {"domain": [0, 1]}, "axis": null}}
            },
            {
              "mark": {"type": "rule", "color": "#c4c4c4", "strokeWidth": 1},
              "encoding": {"x": {"datum": 1, "type": "quantitative", "scale": {"domain": [0, 1]}, "axis": null}}
            }
          ]
        },
        {
          "width": 476,
          "height": 415,
          "title": {"text": " ", "fontSize": 1, "offset": 9},
          "data": {"name": "deet"},
          "transform": [{"calculate": "quantileNormal(datum.p / 100)", "as": "z"}],
          "mark": {"type": "point", "filled": false, "strokeWidth": 1.2, "opacity": 0.8},
          "encoding": {
            "x": {
              "field": "z", "type": "quantitative",
              "scale": {"domain": [-3.12, 3.12], "nice": false, "zero": false},
              "axis": {
                "title": "Relative Häufigkeit in %",
                "values": [-3.0902, -2.3263, -1.2816, -0.5244, 0, 0.5244, 1.2816, 2.3263, 3.0902],
                "labelExpr": "format(round(cumulativeNormal(datum.value) * 1000) / 10, '~g')",
                "tickSize": 5, "labelPadding": 9, "labelFontSize": 21,
                "titleFontSize": 25, "titlePadding": 24,
                "gridOpacity": {"condition": {"test": "abs(datum.value) > 3", "value": 0}, "value": 1}
              }
            },
            "y": {
              "field": "c", "type": "quantitative",
              "scale": {"type": "log", "domain": [0.0001, 1000], "nice": false},
              "axis": {
                "title": "DEET in µg/l",
                "values": [0.0001,0.0002,0.0003,0.0004,0.0005,0.0006,0.0007,0.0008,0.0009,0.001,0.002,0.003,0.004,0.005,0.006,0.007,0.008,0.009,0.01,0.02,0.03,0.04,0.05,0.06,0.07,0.08,0.09,0.1,0.2,0.3,0.4,0.5,0.6,0.7,0.8,0.9,1,2,3,4,5,6,7,8,9,10,20,30,40,50,60,70,80,90,100,200,300,400,500,600,700,800,900,1000],
                "labelExpr": "abs(log(datum.value) / LN10 - round(log(datum.value) / LN10)) < 0.001 ? (datum.value < 0.00015 ? '1e-04' : format(datum.value, '~g')) : ''",
                "tickSize": {"condition": {"test": "abs(log(datum.value) / LN10 - round(log(datum.value) / LN10)) < 0.001", "value": 11}, "value": 5},
                "gridOpacity": {"condition": {"test": "abs(log(datum.value) / LN10 - round(log(datum.value) / LN10)) < 0.001", "value": 1}, "value": 0},
                "labelPadding": 7, "labelFontSize": 20,
                "titleFontSize": 25, "titlePadding": -11
              }
            },
            "color": {
              "field": "g", "type": "nominal",
              "scale": {"domain": ["Zulauf", "Ablauf", "RÜB", "RKB"], "range": ["#5fb233", "#17577f", "#a3245e", "#eb9a1f"]},
              "legend": {
                "title": " ", "orient": "top-left", "offset": 0,
                "labelExpr": "datum.label == 'Zulauf' ? 'Zulauf: n=65, Median: 0.41, Mittel: 0.7592 µg/l' : datum.label == 'Ablauf' ? 'Ablauf: n=314, Median: 0.08, Mittel: 0.1248 µg/l' : datum.label == 'RÜB' ? 'RÜB: n=27, Median: 0.065, Mittel: 0.2504 µg/l' : 'RKB: n=20, Median: 0.014, Mittel: 0.0169 µg/l'"
              }
            },
            "shape": {
              "field": "g", "type": "nominal",
              "scale": {"domain": ["Zulauf", "Ablauf", "RÜB", "RKB"], "range": ["triangle-down", "circle", "diamond", "M-1,-1L1,1M-1,1L1,-1"]}
            },
            "size": {
              "field": "g", "type": "nominal",
              "scale": {"type": "ordinal", "domain": ["Zulauf", "Ablauf", "RÜB", "RKB"], "range": [130, 64, 120, 80]}
            }
          }
        }
      ]
    }
  ]
}
